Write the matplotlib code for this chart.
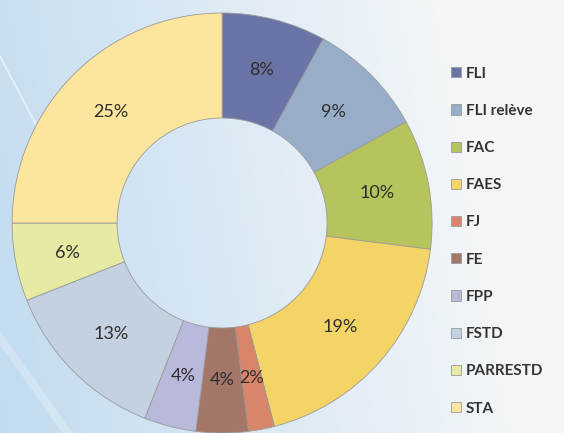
import matplotlib.pyplot as plt
import numpy as np

labels = ['FLI', 'FLI relève', 'FAC', 'FAES', 'FJ', 'FE', 'FPP', 'FSTD', 'PARRESTD', 'STA']
shares = [8, 9, 10, 19, 2, 4, 4, 13, 6, 25]
colors = ['#6b74a6', '#98aec8', '#b7c35c', '#f4d467', '#d98569', '#a47668',
          '#b9badb', '#c3d1e1', '#e7eaa2', '#fce59d']

fig = plt.figure(figsize=(5.64, 4.33), dpi=100)

# background: light blue fading to near white on the right
bg = fig.add_axes([0, 0, 1, 1])
gx = np.linspace(0, 1, 300)
gy = np.linspace(0, 1, 200)
X, Y = np.meshgrid(gx, gy)
t = np.clip(X * 1.1 + (1 - Y) * 0.15, 0, 1)
c0 = np.array([0.76, 0.86, 0.94])
c1 = np.array([0.95, 0.965, 0.975])
img = c0[None, None, :] * (1 - t[..., None]) + c1[None, None, :] * t[..., None]
bg.imshow(img, extent=[0, 1, 0, 1], aspect='auto', origin='upper')
# faint decorative streaks on the left
bg.plot([0.0, 0.065], [0.87, 0.71], color='white', lw=1.2, alpha=0.6)
bg.plot([0.0, 0.12], [0.22, 0.0], color='white', lw=6, alpha=0.25)
bg.set_xlim(0, 1)
bg.set_ylim(0, 1)
bg.axis('off')

ax = fig.add_axes([0.0213, 0.0, 0.745, 0.970])
wedges, texts, autotexts = ax.pie(
    shares, colors=colors, startangle=90, counterclock=False,
    radius=1.0, autopct='%d%%', pctdistance=0.75,
    wedgeprops=dict(width=0.5, edgecolor='#9a9a9a', linewidth=0.6),
    textprops=dict(color='#2e2e2e', fontsize=13, family=['Lato', 'DejaVu Sans']))
ax.set_xlim(-1, 1)
ax.set_ylim(-1, 1)
ax.set_aspect('equal')

leg = fig.legend(wedges, labels, loc='upper left', bbox_to_anchor=(0.776, 0.878),
                 frameon=False, handlelength=0.65, handleheight=0.65,
                 handletextpad=0.3, labelspacing=1.52,
                 prop=dict(family=['Lato', 'DejaVu Sans'],
                           weight='bold', size=11))
for txt in leg.get_texts():
    txt.set_color('#333333')

plt.savefig('out.png', dpi=100)
